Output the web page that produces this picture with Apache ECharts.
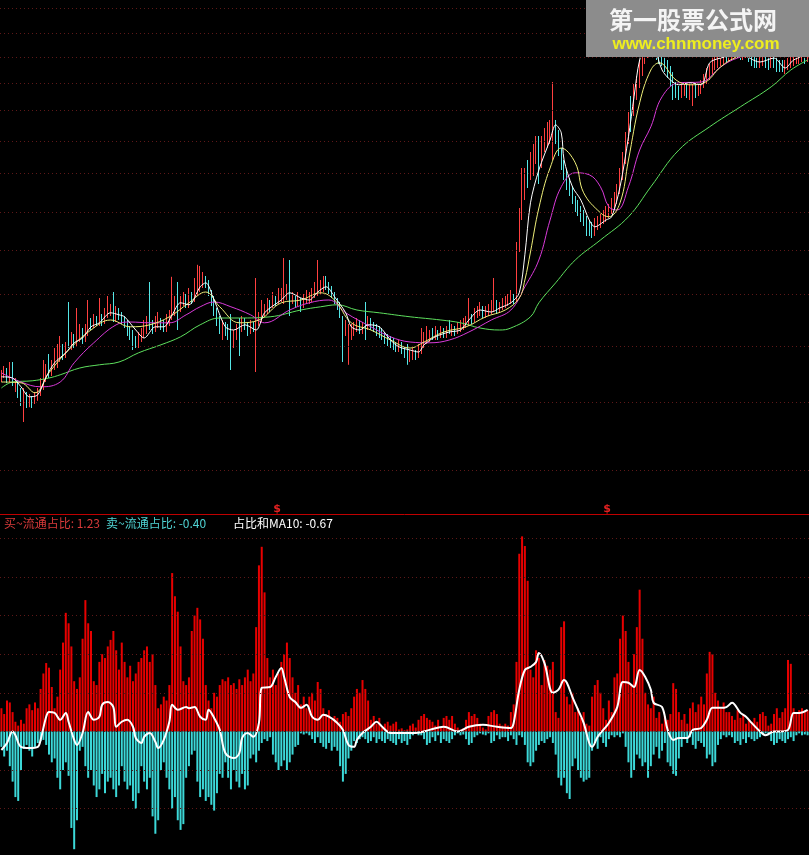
<!DOCTYPE html>
<html><head><meta charset="utf-8">
<script src="https://cdn.jsdelivr.net/npm/echarts@6/dist/echarts.min.js"></script>
<style>html,body{margin:0;padding:0;background:#000;}#c{width:809px;height:855px;}</style>
</head><body><div id="c"></div>
<script>
// ---------- price panel (open, close, low, high) ----------
const ohlc = [
[5.55,5.63,5.45,5.75],[5.63,5.7,5.55,5.85],[5.72,5.5,5.42,5.8],[5.5,5.62,5.45,5.95],[5.9,5.4,5.35,5.95],[5.4,5.45,5.2,5.55],[5.45,5.2,5.05,5.5],[5.2,5.05,4.85,5.3],[5.0,5.15,4.45,5.3],[5.1,4.95,4.8,5.2],
[4.95,5.0,4.82,5.15],[5.05,4.95,4.8,5.1],[4.95,5.05,4.9,5.2],[5.05,5.15,4.98,5.3],[5.15,5.3,5.1,5.55],[5.3,5.55,5.25,6.0],[5.55,5.7,5.45,5.9],[6.1,5.65,5.55,6.15],[5.7,5.85,5.6,6.0],[5.85,6.0,5.75,6.3],
[6.0,6.05,5.8,6.4],[6.05,6.2,5.95,6.6],[6.25,6.13,6.0,6.4],[6.13,6.3,6.05,6.45],[7.3,6.4,6.3,7.45],[6.4,6.5,6.25,6.7],[6.5,6.43,6.3,6.65],[6.43,6.6,6.35,7.3],[6.6,6.65,6.45,6.9],[6.7,6.5,6.4,6.8],
[6.5,6.7,6.45,6.9],[6.7,6.85,6.6,7.5],[6.9,6.88,6.75,7.05],[6.88,7.0,6.8,7.15],[7.05,6.95,6.85,7.1],[6.95,7.05,6.85,7.55],[7.05,6.95,6.85,7.15],[6.95,7.13,6.9,7.3],[7.13,7.2,7.05,7.6],[7.2,7.25,7.1,7.4],
[7.65,7.05,6.95,7.7],[7.05,7.2,6.95,7.35],[7.2,7.1,7.0,7.3],[7.1,7.0,6.9,7.2],[7.05,6.88,6.8,7.1],[6.95,6.75,6.6,7.0],[6.8,6.63,6.5,6.85],[6.7,6.5,6.25,6.75],[6.5,6.38,6.3,6.6],[6.38,6.55,6.3,6.7],
[6.55,6.63,6.45,6.8],[6.63,6.75,6.55,7.0],[6.75,6.8,6.65,7.1],[7.8,6.88,6.75,7.95],[6.88,6.75,6.65,7.0],[6.75,6.88,6.7,7.1],[6.88,6.95,6.8,7.2],[6.95,6.85,6.75,7.05],[6.85,6.8,6.7,7.0],[6.8,6.9,6.7,7.15],
[6.9,7.05,6.85,7.25],[7.05,7.2,7.0,8.08],[7.2,7.38,7.1,7.6],[7.95,7.25,6.75,7.95],[7.25,7.45,7.2,7.6],[7.45,7.5,7.35,7.7],[7.55,7.38,7.3,7.65],[7.38,7.55,7.3,7.8],[7.55,7.5,7.4,7.7],[7.5,7.7,7.45,8.05],
[7.7,7.8,7.6,8.38],[7.8,7.88,7.7,8.35],[7.88,8.0,7.8,8.2],[8.05,7.93,7.8,8.1],[7.95,7.7,7.6,8.0],[7.7,7.5,7.35,7.75],[7.55,7.25,7.1,7.6],[7.25,7.0,6.85,7.3],[7.05,6.75,6.65,7.1],[6.75,6.8,6.5,7.0],
[6.8,6.75,6.6,6.95],[6.8,6.63,6.5,6.9],[7.1,6.38,5.75,7.15],[6.4,6.63,6.3,6.75],[6.63,6.75,6.5,6.9],[7.0,6.8,6.1,7.05],[6.8,6.95,6.7,7.1],[7.0,6.88,6.75,7.05],[6.88,6.75,6.6,6.95],[6.75,6.85,6.65,7.0],
[6.85,6.8,6.7,6.95],[5.7,6.95,5.7,8.05],[6.95,7.05,6.85,7.2],[7.05,7.2,6.95,7.5],[7.2,7.25,7.1,7.4],[7.25,7.3,7.15,7.55],[7.4,7.35,7.2,7.5],[7.35,7.5,7.3,7.7],[7.5,7.45,7.35,7.6],[7.45,7.55,7.4,7.8],
[7.55,7.6,7.45,7.8],[7.6,7.63,7.4,8.55],[7.63,7.7,7.5,7.9],[8.45,7.5,7.1,8.5],[7.5,7.55,7.4,7.7],[7.55,7.45,7.3,7.6],[7.45,7.5,7.35,7.7],[7.5,7.38,7.2,7.55],[7.38,7.5,7.3,7.65],[7.5,7.55,7.4,7.75],
[7.5,7.55,7.4,7.7],[7.55,7.63,7.45,7.8],[7.63,7.7,7.55,7.95],[7.7,7.75,7.6,8.5],[7.75,7.8,7.65,8.0],[7.8,7.85,7.7,8.1],[7.95,7.88,7.75,8.1],[7.88,7.75,7.65,7.95],[7.75,7.63,7.55,7.85],[7.65,7.5,7.4,7.7],
[7.5,7.38,7.25,7.55],[7.38,7.2,7.05,7.45],[7.1,6.75,5.95,7.1],[6.75,6.88,6.6,7.0],[5.9,6.63,5.88,6.9],[6.63,6.75,6.5,6.9],[6.75,6.8,6.6,6.95],[6.8,6.88,6.7,7.05],[6.9,6.75,6.65,7.0],[6.75,6.8,6.65,6.95],
[7.45,6.85,6.5,7.45],[6.85,6.95,6.75,7.1],[6.95,6.88,6.75,7.05],[6.88,6.8,6.7,6.95],[6.8,6.75,6.6,6.9],[6.75,6.7,6.55,6.85],[6.7,6.63,6.5,6.8],[6.63,6.55,6.4,6.7],[6.55,6.5,6.35,6.65],[6.5,6.45,6.3,6.6],
[6.45,6.38,6.25,6.55],[6.38,6.3,6.2,6.45],[6.3,6.38,6.2,6.5],[6.4,6.25,6.15,6.45],[6.25,6.2,6.05,6.35],[6.35,6.05,5.88,6.4],[6.05,6.13,5.95,6.25],[6.13,6.2,6.0,6.3],[6.2,6.13,6.0,6.25],[6.13,6.25,6.05,6.4],
[6.25,6.38,6.15,6.8],[6.38,6.5,6.3,6.7],[6.5,6.55,6.4,6.85],[6.55,6.6,6.45,6.75],[6.65,6.63,6.5,6.8],[6.63,6.68,6.5,6.85],[6.7,6.63,6.5,6.75],[6.63,6.7,6.55,6.85],[6.7,6.65,6.55,6.8],[6.65,6.7,6.55,6.85],
[7.0,6.7,6.65,7.0],[6.7,6.75,6.6,6.9],[6.78,6.7,6.6,6.85],[6.7,6.8,6.65,6.95],[6.8,6.85,6.7,7.0],[6.85,6.88,6.75,7.05],[6.88,6.95,6.8,7.1],[6.95,7.05,6.85,7.55],[7.05,7.0,6.9,7.15],[7.0,7.13,6.95,7.3],
[7.13,7.2,7.05,7.35],[7.2,7.25,7.1,7.45],[7.3,7.15,7.05,7.35],[7.15,7.2,7.05,7.35],[7.2,7.25,7.1,7.4],[7.25,7.3,7.15,7.5],[7.3,7.38,7.2,8.05],[7.45,7.25,7.15,7.5],[7.25,7.3,7.2,7.45],[7.3,7.38,7.25,7.55],
[7.38,7.43,7.3,7.6],[7.43,7.5,7.35,7.65],[7.5,7.55,7.4,7.75],[7.58,7.5,7.4,7.65],[7.5,8.75,7.45,8.95],[8.8,9.63,8.7,9.8],[9.6,10.38,9.5,10.8],[10.4,10.55,10.0,10.8],[10.8,10.75,10.3,11.0],[10.75,10.88,10.5,11.2],
[10.9,11.0,10.6,11.4],[11.0,11.25,10.9,11.6],[11.55,10.88,10.4,11.6],[10.9,11.38,10.8,11.6],[11.38,11.5,11.2,11.8],[11.5,11.63,11.3,11.95],[11.63,11.75,11.4,12.0],[11.0,11.88,11.0,12.95],[11.9,11.63,11.4,12.0],[11.65,11.25,11.1,11.75],
[11.2,10.88,10.75,11.3],[10.9,10.63,10.5,11.0],[10.65,10.38,10.25,10.75],[10.4,10.25,10.1,10.55],[10.25,10.0,9.9,10.35],[9.95,9.88,9.7,10.1],[9.9,9.75,9.6,10.0],[9.7,9.63,9.45,9.85],[9.6,9.5,9.35,9.75],[9.5,9.38,9.1,9.6],
[9.38,9.3,9.1,9.5],[9.35,9.2,9.05,9.45],[9.2,9.38,9.1,9.55],[9.4,9.45,9.25,9.6],[9.45,9.5,9.3,9.65],[9.5,9.55,9.4,9.75],[9.55,9.7,9.45,9.85],[9.7,9.75,9.55,9.9],[9.75,9.88,9.65,10.05],[9.88,10.0,9.8,10.2],
[10.0,10.25,9.9,10.4],[10.25,10.63,10.15,10.8],[10.63,11.0,10.5,11.2],[11.0,11.5,10.9,11.7],[11.5,12.0,11.4,12.2],[12.4,12.25,11.7,12.6],[12.25,12.63,12.1,12.9],[12.65,12.88,12.5,13.1],[12.9,13.25,12.8,13.5],[13.25,13.63,13.1,13.9],
[13.6,13.75,13.4,14.0],[13.75,13.88,13.55,14.2],[13.9,14.0,13.7,14.3],[14.05,13.88,13.6,14.15],[13.9,13.75,13.5,14.0],[13.8,13.63,13.4,13.9],[13.65,13.55,13.35,13.8],[13.6,13.38,13.2,13.7],[13.4,13.25,13.05,13.5],[13.3,13.05,12.85,13.35],
[13.1,12.8,12.5,13.2],[12.85,12.7,12.55,12.95],[12.7,12.63,12.5,12.85],[12.63,12.75,12.55,12.9],[12.75,12.8,12.6,12.95],[12.8,12.7,12.55,12.9],[12.7,12.75,12.5,12.9],[12.45,12.8,12.35,12.95],[12.8,12.7,12.55,12.9],[12.7,12.75,12.6,12.9],
[12.75,12.88,12.65,13.0],[12.88,13.0,12.8,13.15],[13.0,13.13,12.9,13.3],[13.13,13.25,13.0,13.4],[13.25,13.38,13.15,13.55],[13.38,13.45,13.25,13.6],[13.45,13.5,13.3,13.7],[13.5,13.55,13.35,13.75],[13.55,13.63,13.4,13.8],[13.7,13.63,13.45,13.85],
[13.6,13.63,13.45,13.8],[13.63,13.7,13.5,13.85],[13.7,13.75,13.55,13.9],[13.78,13.7,13.55,13.85],[13.7,13.63,13.5,13.8],[13.63,13.7,13.5,13.85],[13.7,13.75,13.55,13.9],[13.78,13.63,13.45,13.85],[13.65,13.55,13.35,13.75],[13.55,13.5,13.3,13.7],
[13.5,13.45,13.3,13.65],[13.45,13.5,13.3,13.65],[13.5,13.55,13.35,13.7],[13.55,13.5,13.3,13.65],[13.5,13.45,13.25,13.6],[13.45,13.5,13.3,13.65],[13.5,13.45,13.3,13.6],[13.45,13.4,13.2,13.55],[13.4,13.35,13.2,13.5],[13.45,13.3,13.2,13.5],
[13.3,13.35,13.15,13.5],[13.35,13.4,13.25,13.55],[13.4,13.45,13.3,13.6],[13.45,13.5,13.35,13.65],[13.5,13.55,13.4,13.7],[13.55,13.58,13.4,13.75],[13.58,13.6,13.45,13.75],[13.62,13.55,13.4,13.7],[13.55,13.58,13.45,13.75]
];
// moving-average lines, [bar index, value]
const maWhite = [[0,5.58],[4,5.55],[7,5.33],[10,5.08],[13,5.13],[16,5.58],[19,5.93],[23,6.18],[26,6.43],[29,6.55],[32,6.83],[35,6.93],[39,7.18],[42,7.13],[44,7.08],[48,6.75],[51,6.55],[55,6.83],[58,6.83],[61,7.13],[64,7.43],[67,7.38],[71,7.83],[73,7.93],[76,7.5],[80,6.83],[83,6.75],[87,6.88],[91,6.75],[94,7.18],[100,7.5],[103,7.68],[107,7.55],[110,7.5],[113,7.7],[116,7.83],[119,7.58],[123,7.18],[125,6.83],[128,6.75],[131,6.88],[135,6.83],[139,6.5],[142,6.33],[146,6.25],[149,6.2],[151,6.38],[155,6.58],[160,6.7],[164,6.75],[167,7.0],[171,7.25],[175,7.2],[178,7.3],[182,7.43],[185,7.68],[187,8.63],[189,9.93],[192,10.75],[196,11.5],[198,11.88],[200,11.68],[201,11.0],[204,10.33],[207,10.0],[210,9.5],[212,9.33],[216,9.5],[218,9.58],[221,10.33],[224,11.58],[226,12.58],[228,13.5],[231,14.0],[233,13.88],[236,13.25],[239,13.0],[242,12.88],[246,12.93],[250,12.88],[253,13.43],[257,13.55],[264,13.63],[271,13.45],[276,13.55],[280,13.3],[283,13.5],[288,13.63]];
const maYellow = [[0,5.45],[7,5.43],[12,5.18],[17,5.68],[24,6.25],[32,6.75],[39,7.0],[46,6.83],[53,6.88],[60,7.08],[67,7.43],[73,7.7],[78,7.33],[85,6.93],[92,7.0],[100,7.43],[107,7.5],[114,7.68],[119,7.5],[125,6.93],[132,6.75],[139,6.5],[146,6.3],[151,6.45],[158,6.7],[166,6.83],[173,7.08],[180,7.25],[185,7.55],[187,8.0],[189,8.7],[192,9.8],[196,10.8],[200,11.3],[205,10.93],[208,10.18],[214,9.68],[217,9.58],[221,9.93],[224,11.0],[228,12.43],[232,13.25],[235,13.43],[241,13.0],[246,12.88],[251,12.93],[257,13.33],[262,13.55],[271,13.7],[282,13.7],[288,13.75]];
const maMagenta = [[0,5.68],[7,5.45],[14,5.33],[21,5.45],[26,5.93],[33,6.43],[41,6.88],[46,6.95],[53,6.93],[60,6.93],[66,7.13],[71,7.33],[76,7.45],[82,7.33],[89,7.13],[94,6.93],[103,7.25],[110,7.43],[117,7.5],[123,7.18],[132,6.83],[139,6.58],[146,6.45],[153,6.43],[160,6.5],[167,6.7],[175,7.0],[182,7.25],[187,7.83],[192,8.5],[196,9.5],[200,10.33],[205,10.68],[210,10.63],[214,10.33],[217,9.83],[220,9.75],[224,10.33],[228,11.25],[232,11.83],[236,12.58],[242,12.93],[250,12.95],[257,13.33],[263,13.55],[275,13.75],[288,13.88]];
const maGreen = [[0,5.3],[4,5.45],[11,5.48],[17,5.55],[21,5.63],[28,5.8],[35,5.88],[42,5.95],[49,6.18],[57,6.38],[64,6.58],[71,6.88],[78,7.05],[85,7.05],[96,7.08],[107,7.25],[114,7.33],[120,7.38],[127,7.25],[135,7.18],[146,7.08],[157,7.0],[164,6.93],[171,6.8],[178,6.75],[182,6.8],[189,7.08],[192,7.43],[198,7.93],[205,8.5],[214,9.0],[224,9.58],[232,10.33],[242,11.25],[253,11.83],[264,12.33],[275,12.83],[282,13.25],[288,13.5]];
const priceGridLevels = [14.8,14.175,13.575,12.925,12.25,11.475,10.675,9.7,8.75,7.65,6.35,4.95,3.25];

// ---------- ratio panel ----------
const buyRatio = [
0.6,0.45,0.8,0.75,0.5,0.25,0.15,0.3,0.2,0.6,
0.7,0.55,0.75,0.6,1.1,1.5,1.77,1.65,1.15,0.6,
0.9,1.6,2.3,3.07,2.8,2.2,1.3,1.1,1.4,2.4,
3.4,2.8,2.6,1.3,1.2,1.8,2.0,1.9,2.2,2.37,
2.6,2.1,1.6,2.3,1.8,1.4,1.7,1.3,1.5,1.8,
1.9,2.1,2.2,1.8,2.0,1.2,0.6,0.7,0.9,0.8,
1.2,4.1,3.5,3.1,2.2,1.3,1.2,1.4,2.6,3.0,
3.2,2.9,2.4,1.2,0.8,0.6,1.0,0.9,1.2,1.35,
1.3,1.4,1.2,1.25,1.1,1.35,1.2,1.4,1.6,1.3,
1.5,2.7,4.3,4.78,3.6,1.9,1.4,1.6,1.2,1.5,
1.8,2.0,2.3,1.9,1.4,1.0,1.2,0.7,0.9,0.6,
0.9,1.0,0.8,1.28,1.1,0.6,0.45,0.55,0.3,0.4,
0.35,0.25,0.45,0.5,0.4,0.6,0.9,1.1,1.0,1.33,
1.1,0.8,0.3,0.4,0.2,0.35,0.1,0.2,0.25,0.15,
0.2,0.25,0.05,0.08,0.03,0.05,0.15,0.2,0.1,0.3,
0.4,0.45,0.35,0.3,0.25,0.15,0.3,0.1,0.35,0.4,
0.3,0.4,0.2,0.1,0.05,0.08,0.3,0.5,0.4,0.45,
0.35,0.2,0.1,0.05,0.4,0.5,0.55,0.45,0.2,0.15,
0.2,0.15,0.5,0.7,1.8,4.6,5.05,4.8,3.9,1.6,
1.4,2.1,1.9,1.2,1.85,1.7,1.6,1.8,0.5,0.35,
2.7,2.85,0.9,0.7,1.0,0.5,0.6,0.35,0.5,0.2,
0.15,0.9,1.2,1.33,1.0,0.6,0.3,0.8,0.5,1.4,
1.5,2.4,3.0,2.6,1.8,1.2,2.0,2.7,3.67,2.4,
1.0,0.7,0.6,0.9,0.35,0.5,0.2,0.4,0.3,0.45,
1.25,1.1,0.5,0.3,0.45,0.2,0.6,0.75,0.5,0.7,
0.9,0.7,1.5,2.06,2.0,1.0,0.8,0.6,0.75,0.5,
0.5,0.4,0.3,0.55,0.35,0.45,0.2,0.3,0.25,0.35,
0.25,0.45,0.5,0.4,0.15,0.2,0.45,0.6,0.35,0.5,
0.6,1.85,1.75,0.6,0.5,0.55,0.6,0.5,0.55
];
const sellRatio = [
-0.4,-0.65,-0.5,-0.9,-1.3,-1.7,-1.8,-1.0,-0.45,-0.35,
-0.5,-0.65,-0.4,-0.3,-0.25,-0.22,-0.35,-0.6,-0.8,-0.7,
-1.2,-1.5,-1.0,-0.8,-1.15,-2.5,-3.05,-2.3,-0.5,-0.4,
-0.9,-1.2,-1.0,-1.4,-1.7,-1.5,-1.1,-1.6,-1.3,-1.2,
-1.5,-1.7,-1.4,-0.9,-1.3,-1.5,-1.4,-1.8,-2.0,-1.6,
-0.9,-1.3,-1.5,-1.2,-2.2,-2.65,-2.3,-1.0,-0.8,-1.2,
-1.5,-2.0,-1.7,-2.3,-2.55,-2.4,-1.2,-0.9,-0.6,-0.5,
-1.3,-1.7,-1.5,-1.8,-1.7,-1.9,-2.05,-1.6,-1.1,-1.2,
-0.8,-1.2,-1.5,-1.0,-1.3,-1.45,-1.1,-1.5,-1.4,-0.7,
-0.6,-0.8,-0.5,-0.3,-0.2,-0.25,-0.15,-0.6,-0.8,-1.0,
-0.9,-0.75,-1.0,-0.8,-0.6,-0.4,-0.35,-0.05,-0.08,-0.05,
-0.1,-0.2,-0.3,-0.15,-0.3,-0.4,-0.45,-0.3,-0.5,-0.4,
-0.5,-0.9,-1.3,-1.1,-0.7,-0.5,-0.25,-0.3,-0.2,-0.15,
-0.2,-0.3,-0.25,-0.15,-0.3,-0.2,-0.25,-0.3,-0.2,-0.25,
-0.3,-0.35,-0.2,-0.3,-0.25,-0.35,-0.2,-0.1,-0.05,-0.1,
-0.1,-0.2,-0.35,-0.3,-0.15,-0.25,-0.1,-0.3,-0.2,-0.25,
-0.3,-0.2,-0.1,-0.05,-0.1,-0.08,-0.2,-0.35,-0.3,-0.15,
-0.1,-0.05,-0.08,-0.1,-0.05,-0.3,-0.25,-0.1,-0.2,-0.15,
-0.15,-0.25,-0.1,-0.2,-0.35,-0.1,-0.15,-0.35,-0.8,-0.9,
-0.8,-0.5,-0.35,-0.25,-0.3,-0.2,-0.15,-0.3,-0.6,-1.2,
-1.4,-1.2,-1.6,-1.75,-0.9,-0.7,-1.0,-1.2,-1.3,-1.25,
-1.2,-0.5,-0.3,-0.45,-0.15,-0.3,-0.4,-0.2,-0.1,-0.15,
-0.1,-0.15,-0.05,-0.4,-0.8,-1.2,-1.0,-0.6,-0.7,-0.9,
-0.8,-1.2,-0.9,-0.6,-0.4,-0.7,-0.5,-0.3,-0.8,-0.9,
-1.1,-1.15,-0.7,-0.4,-0.2,-0.3,-0.15,-0.35,-0.45,-0.25,
-0.3,-0.4,-0.7,-0.6,-0.9,-0.8,-0.35,-0.2,-0.1,-0.15,
-0.1,-0.15,-0.3,-0.25,-0.35,-0.2,-0.3,-0.15,-0.2,-0.25,
-0.2,-0.15,-0.1,-0.05,-0.1,-0.25,-0.35,-0.3,-0.2,-0.25,
-0.3,-0.2,-0.15,-0.25,-0.1,-0.05,-0.1,-0.08,-0.1
];
const sumMA10 = [[0,-0.48],[2,-0.3],[4,0],[5,-0.1],[7,-0.4],[10,-0.43],[13,-0.4],[14,-0.22],[16,0.38],[17,0.5],[19,0.48],[21,0.3],[23,0.48],[24,0.25],[26,-0.22],[27,-0.35],[29,-0.04],[31,0.5],[33,0.3],[35,0.38],[36,0.69],[38,0.76],[40,0.63],[41,0.12],[43,0.25],[45,0.3],[47,0.12],[48,-0.17],[50,-0.3],[51,-0.14],[53,-0.04],[55,-0.27],[56,-0.43],[58,-0.22],[60,0.25],[61,0.69],[63,0.56],[66,0.63],[67,0.6],[69,0.63],[71,0.38],[73,0.3],[74,0.56],[76,0.35],[78,0.04],[80,-0.56],[83,-0.69],[85,-0.56],[86,-0.17],[88,-0.04],[90,-0.14],[92,0.22],[93,1.13],[96,1.15],[98,1.41],[100,1.64],[101,1.41],[103,0.89],[105,0.76],[107,0.61],[109,0.69],[111,0.38],[113,0.3],[115,0.43],[117,0.38],[120,0.22],[122,0.04],[124,-0.35],[126,-0.4],[127,-0.22],[129,-0.04],[132,0.12],[134,0.25],[136,0.12],[139,-0.04],[143,-0.04],[148,-0.04],[153,0.04],[158,0.12],[163,0],[167,0.12],[172,0.17],[177,0.12],[182,0.09],[183,0.22],[185,1.08],[187,1.59],[189,1.67],[191,1.8],[192,2.03],[194,1.77],[197,1.0],[199,1.08],[201,1.33],[202,1.26],[204,0.89],[206,0.56],[208,0.22],[210,-0.3],[211,-0.4],[213,-0.14],[215,0.04],[217,0.22],[220,0.63],[222,1.28],[224,1.26],[226,1.15],[228,1.59],[230,1.41],[232,1.08],[233,0.74],[236,0.63],[238,0.04],[240,-0.22],[242,-0.17],[245,-0.17],[247,0.04],[250,0.09],[252,0.3],[254,0.61],[257,0.61],[259,0.63],[261,0.74],[264,0.48],[266,0.38],[268,0.22],[271,0],[273,-0.1],[276,0],[278,0],[281,0.04],[283,0.48],[285,0.48],[288,0.56]];
const ratioGridLevels = [5,4,3,2,1,0,-1,-2];
const legendBuy = '买~流通占比: 1.23';
const legendSell = '卖~流通占比: -0.40';
const legendMA = '占比和MA10: -0.67';

const N = ohlc.length;
const cats = ohlc.map((d, i) => String(i));
const dotted = {color:'#5e1818', type:[1,3], width:1};
const gridLine = levels => ({silent:true, symbol:'none', label:{show:false}, animation:false,
  lineStyle:dotted, data: levels.map(v => ({yAxis:v}))});

const chart = echarts.init(document.getElementById('c'), null, {renderer:'canvas'});
const lineS = (data, color, w, sm, xi, yi) => ({type:'line', xAxisIndex:xi, yAxisIndex:yi, data,
  showSymbol:false, smooth:sm, lineStyle:{color, width:w}, itemStyle:{color}, z:3});

chart.setOption({
  backgroundColor:'#000',
  animation:false,
  grid:[{left:0,right:0,top:0,height:514},{left:0,right:0,top:519,height:336}],
  xAxis:[
    {type:'category', gridIndex:0, data:cats, boundaryGap:true, show:false},
    {type:'value', gridIndex:0, min:-0.5, max:N-0.5, show:false},
    {type:'category', gridIndex:1, data:cats, boundaryGap:true, show:false},
    {type:'value', gridIndex:1, min:-0.5, max:N-0.5, show:false}
  ],
  yAxis:[
    {type:'value', gridIndex:0, min:2.15, max:15, show:false, splitLine:{show:false}},
    {type:'value', gridIndex:1, min:-3.2, max:5.5, show:false, splitLine:{show:false}}
  ],
  series:[
    {type:'candlestick', xAxisIndex:0, yAxisIndex:0, data:ohlc, barWidth:1,
      itemStyle:{color:'#000', color0:'#54e6e6', borderColor:'#ff4040', borderColor0:'#54e6e6', borderWidth:1},
      markLine:gridLine(priceGridLevels)},
    lineS(maGreen, '#5ee05e', 1, 0.4, 1, 0),
    lineS(maMagenta, '#d93ad9', 1, 0.4, 1, 0),
    lineS(maYellow, '#f0f07a', 1, 0.4, 1, 0),
    lineS(maWhite, '#ffffff', 1, 0.3, 1, 0),
    {type:'bar', xAxisIndex:2, yAxisIndex:1, data:buyRatio, barWidth:2, itemStyle:{color:'#e80000'},
      markLine:gridLine(ratioGridLevels)},
    {type:'bar', xAxisIndex:2, yAxisIndex:1, data:sellRatio, barWidth:2, barGap:'-100%', itemStyle:{color:'#3cd8d8'}},
    lineS(sumMA10, '#ffffff', 2, 0.35, 3, 1)
  ],
  graphic:[
    {type:'line', z:50, shape:{x1:0,y1:514.5,x2:809,y2:514.5}, style:{stroke:'#c00000', lineWidth:1}},
    {type:'text', z:50, x:277, y:509, style:{text:'$', fill:'#e02020', font:'bold 11px "DejaVu Sans"', align:'center', verticalAlign:'middle'}},
    {type:'text', z:50, x:607, y:509, style:{text:'$', fill:'#e02020', font:'bold 11px "DejaVu Sans"', align:'center', verticalAlign:'middle'}},
    {type:'text', z:50, x:4, y:523, style:{text:legendBuy, fill:'#d83a3a', font:'12px "Noto Sans CJK SC"', align:'left', verticalAlign:'middle'}},
    {type:'text', z:50, x:106, y:523, style:{text:legendSell, fill:'#4fd2d2', font:'12px "Noto Sans CJK SC"', align:'left', verticalAlign:'middle'}},
    {type:'text', z:50, x:233, y:523, style:{text:legendMA, fill:'#ffffff', font:'12px "Noto Sans CJK SC"', align:'left', verticalAlign:'middle'}},
    {type:'rect', z:100, shape:{x:586,y:0,width:223,height:57}, style:{fill:'#8c8c8c'}},
    {type:'text', z:101, x:693, y:20, style:{text:'第一股票公式网', fill:'#f4f4f4', font:'bold 24px "Noto Sans CJK SC"', align:'center', verticalAlign:'middle'}},
    {type:'text', z:101, x:696, y:44, style:{text:'www.chnmoney.com', fill:'#eeee1e', font:'bold 17px "Liberation Sans"', align:'center', verticalAlign:'middle'}}
  ]
});
</script>
</body></html>
